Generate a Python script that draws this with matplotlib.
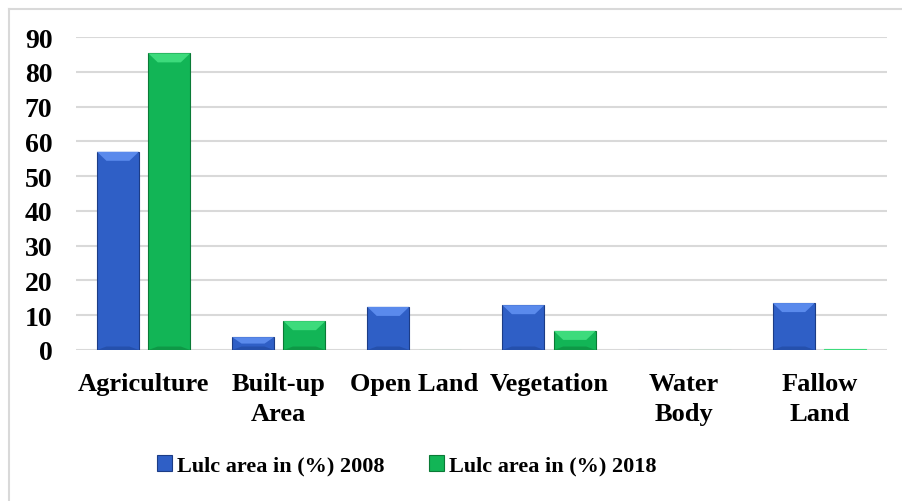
import numpy as np
import matplotlib.pyplot as plt
from matplotlib.patches import Polygon
from matplotlib.lines import Line2D

categories = ['Agriculture', 'Built-up\nArea', 'Open Land', 'Vegetation', 'Water\nBody', 'Fallow\nLand']
lulc_2008 = [57.0, 3.7, 12.4, 12.9, 0.0, 13.5]
lulc_2018 = [85.3, 8.3, 0.0, 5.5, 0.0, 0.2]
series_labels = ['Lulc area in (%) 2008', 'Lulc area in (%) 2018']

plt.rcParams['font.family'] = ['Liberation Serif', 'DejaVu Serif']
plt.rcParams['font.weight'] = 'bold'

fig = plt.figure(figsize=(9.03, 5.02), dpi=100)
ax = fig.add_axes([0.0842, 0.3008, 0.8980, 0.6235])

x = np.arange(len(categories))
bar_width = 0.31
offset = 0.19

styles = [
    dict(face='#2F5FC6', edge='#1C3C86', light='#5A8AEC', dark='#2550AC'),
    dict(face='#12B556', edge='#0A7A36', light='#3DDB7C', dark='#0E9846'),
]

for vals, off, st, lab in zip([lulc_2008, lulc_2018], [-offset, offset], styles, series_labels):
    bars = ax.bar(x + off, vals, bar_width, color=st['face'], edgecolor=st['edge'],
                  linewidth=0.8, label=lab, zorder=3)
    # simple bevel: lighter top chamfer, darker bottom strip
    for b in bars:
        h = b.get_height()
        if h <= 0.5:
            b.set_edgecolor(st['light'])
            continue
        x0 = b.get_x()
        x1 = x0 + b.get_width()
        dx = 0.07
        dh = min(2.6, h / 2)
        top = Polygon([(x0, h), (x1, h), (x1 - dx, h - dh), (x0 + dx, h - dh)],
                      closed=True, facecolor=st['light'], edgecolor='none', zorder=4)
        ax.add_patch(top)
        bot = Polygon([(x0, 0), (x1, 0), (x1 - dx, min(1.0, h / 3)), (x0 + dx, min(1.0, h / 3))],
                      closed=True, facecolor=st['dark'], edgecolor='none', zorder=4)
        ax.add_patch(bot)

ax.set_xlim(-0.5, len(categories) - 0.5)
ax.set_ylim(0, 90)
ax.set_yticks(np.arange(0, 91, 10))
ax.yaxis.grid(True, color='#D9D9D9', linewidth=1.5, zorder=0)
ax.set_axisbelow(True)
for s in ax.spines.values():
    s.set_visible(False)
ax.tick_params(axis='both', length=0)
ax.tick_params(axis='y', pad=17, labelsize=20)
ax.tick_params(axis='x', pad=16, labelsize=19)
ax.set_xticks(x)
ax.set_xticklabels(categories, fontweight='bold', linespacing=1.4)
for t in ax.get_yticklabels():
    t.set_fontweight('bold')

ax.legend(loc='center', bbox_to_anchor=(0.45, 0.071), bbox_transform=fig.transFigure,
          ncol=2, frameon=False, handlelength=0.7, handleheight=0.7,
          handletextpad=0.2, columnspacing=2.0, prop={'weight': 'bold', 'size': 16})

# outer chart border (left and top)
fig.add_artist(Line2D([8.5 / 903, 1.0], [1 - 9.5 / 502, 1 - 9.5 / 502],
                      transform=fig.transFigure, color='#D9D9D9', linewidth=1.5))
fig.add_artist(Line2D([8.5 / 903, 8.5 / 903], [0.0, 1 - 9.5 / 502],
                      transform=fig.transFigure, color='#D9D9D9', linewidth=1.5))

plt.savefig('out.png', dpi=100)
